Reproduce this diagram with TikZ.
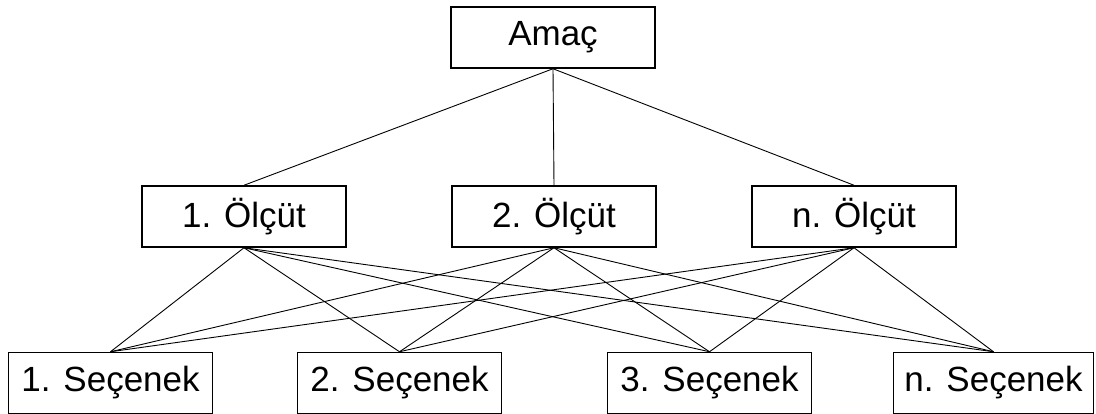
\documentclass[tikz,border=0pt]{standalone}
\usepackage{fontspec}
\setmainfont{Liberation Sans}
\begin{document}
\begin{tikzpicture}[x=1pt,y=-1pt,
  box/.style={draw, line width=1.5pt, minimum width=204pt, minimum height=61pt,
              inner sep=0pt, fill=white, font=\fontsize{35}{42}\selectfont},
  link/.style={line width=0.9pt}]
\useasboundingbox (0,0) rectangle (1096,414);
% goal
\node[box] (goal) at (553,37.5) {Amaç};
% criteria
\node[box] (c1) at (244,216.5) {1. Ölçüt};
\node[box] (c2) at (554,216.5) {2. Ölçüt};
\node[box] (cn) at (854,216.5) {n. Ölçüt};
% alternatives
\node[box] (a1) at (110.5,383) {1. Seçenek};
\node[box] (a2) at (399.5,383) {2. Seçenek};
\node[box] (a3) at (709.5,383) {3. Seçenek};
\node[box, minimum width=200pt] (an) at (993.5,383) {n. Seçenek};
% goal to criteria
\foreach \c in {c1,c2,cn}
  \draw[link] (goal.south) -- (\c.north);
% every criterion to every alternative
\foreach \c in {c1,c2,cn}
  \foreach \a in {a1,a2,a3,an}
    \draw[link] (\c.south) -- (\a.north);
\end{tikzpicture}
\end{document}
